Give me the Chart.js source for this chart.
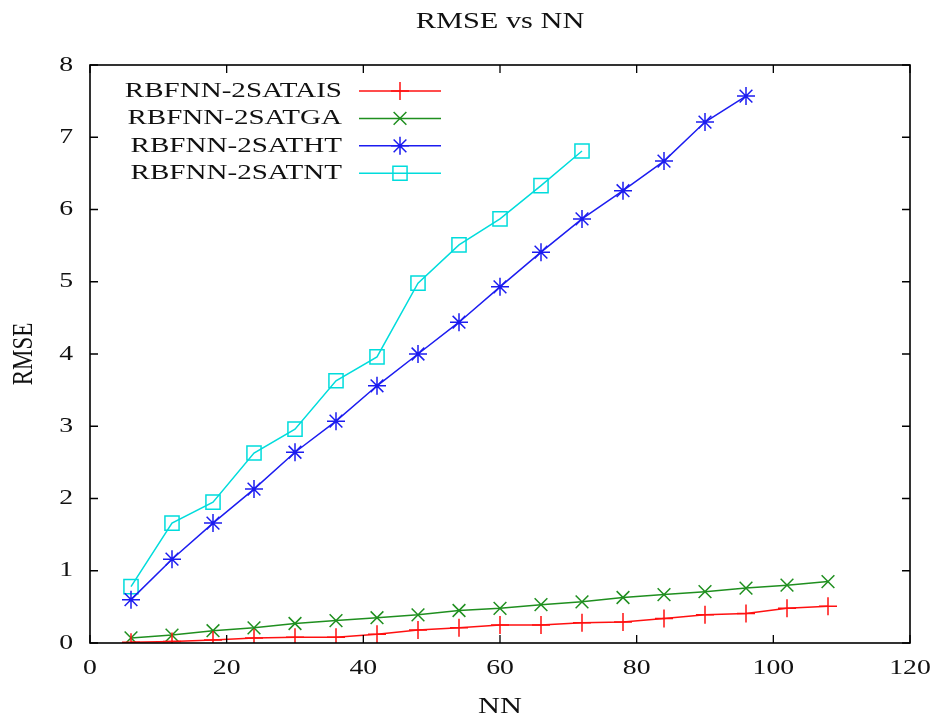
<!DOCTYPE html>
<html>
<head>
<meta charset="utf-8">
<script src="https://cdn.jsdelivr.net/npm/chart.js@4/dist/chart.umd.min.js"></script>
<style>
html,body{margin:0;padding:0;background:#fff;}
#c{display:block;}
</style>
</head>
<body>
<canvas id="c" width="936" height="725"></canvas>
<script>
const titleText = "RMSE vs NN";
const xTitle = "NN";
const yTitle = "RMSE";
const seriesNames = ["RBFNN-2SATAIS", "RBFNN-2SATGA", "RBFNN-2SATHT", "RBFNN-2SATNT"];
const nnValues = [6,12,18,24,30,36,42,48,54,60,66,72,78,84,90,96,102,108];
const rmseAIS = [0.01,0.02,0.04,0.07,0.08,0.08,0.12,0.18,0.21,0.25,0.25,0.28,0.29,0.34,0.39,0.41,0.48,0.51];
const rmseGA  = [0.07,0.11,0.17,0.21,0.27,0.31,0.35,0.39,0.45,0.48,0.53,0.57,0.63,0.67,0.71,0.76,0.80,0.85];
const rmseHT  = [0.60,1.16,1.66,2.13,2.64,3.07,3.56,4.00,4.44,4.93,5.41,5.87,6.26,6.67,7.21,7.57];
const rmseNT  = [0.78,1.66,1.95,2.63,2.96,3.63,3.96,4.98,5.51,5.87,6.33,6.81];
const xTicks = [0,20,40,60,80,100,120];
const yTicks = [0,1,2,3,4,5,6,7,8];

const colors = ["#ff1010", "#1f8f1f", "#1c1cf0", "#00dcdc"];
const styles = ["cross", "crossRot", "star", "rect"];
const radii = [9, 9, 9, 10];

function pts(vals){ return vals.map((v,i)=>({x:nnValues[i], y:v})); }
const allVals = [rmseAIS, rmseGA, rmseHT, rmseNT];

const FONT = "'Liberation Serif','DejaVu Serif',serif";
const SX = 1.32; // horizontal stretch of lettering in the reference

function wideText(ctx, text, x, y, align, size){
  ctx.save();
  ctx.font = size + "px " + FONT;
  ctx.textBaseline = 'middle';
  ctx.textAlign = align;
  ctx.translate(x, y);
  ctx.scale(SX, 1);
  ctx.fillText(text, 0, 0);
  ctx.restore();
}

const boxTicks = {
  id: 'boxTicks',
  afterDatasetsDraw(chart){
    const {ctx, chartArea:a, scales:{x,y}} = chart;
    ctx.save();
    ctx.strokeStyle = '#000';
    ctx.lineWidth = 1.6;
    ctx.strokeRect(a.left, a.top, a.right-a.left, a.bottom-a.top);
    ctx.lineWidth = 1.3;
    const L = 8;
    ctx.beginPath();
    xTicks.forEach(t=>{
      const px = x.getPixelForValue(t);
      ctx.moveTo(px, a.bottom); ctx.lineTo(px, a.bottom-L);
      ctx.moveTo(px, a.top); ctx.lineTo(px, a.top+L);
    });
    yTicks.forEach(t=>{
      const py = y.getPixelForValue(t);
      ctx.moveTo(a.left, py); ctx.lineTo(a.left+L, py);
      ctx.moveTo(a.right, py); ctx.lineTo(a.right-L, py);
    });
    ctx.stroke();
    ctx.restore();
  },
  afterDraw(chart){
    const {ctx, chartArea:a, scales:{x,y}} = chart;
    ctx.save();
    ctx.fillStyle = '#111';
    // tick labels
    xTicks.forEach(t=> wideText(ctx, String(t), x.getPixelForValue(t), a.bottom + 25, 'center', 21));
    yTicks.forEach(t=> wideText(ctx, String(t), a.left - 17, y.getPixelForValue(t), 'right', 21));
    // titles
    wideText(ctx, titleText, (a.left + a.right)/2, 22, 'center', 23);
    wideText(ctx, xTitle, (a.left + a.right)/2, 707, 'center', 23);
    ctx.save();
    ctx.font = "23px " + FONT;
    ctx.textAlign = 'center';
    ctx.textBaseline = 'middle';
    ctx.translate(24, (a.top + a.bottom)/2);
    ctx.scale(SX, 1);
    ctx.rotate(-Math.PI/2);
    ctx.fillText(yTitle, 0, 0);
    ctx.restore();
    // legend
    const textRight = a.left + 252;
    const lx0 = a.left + 269, lx1 = a.left + 351;
    chart.data.datasets.forEach((ds,i)=>{
      const yy = a.top + 26 + i*27.4;
      ctx.fillStyle = '#111';
      wideText(ctx, ds.label, textRight, yy, 'right', 22);
      ctx.strokeStyle = ds.borderColor;
      ctx.lineWidth = 1.5;
      ctx.beginPath(); ctx.moveTo(lx0, yy); ctx.lineTo(lx1, yy); ctx.stroke();
      ctx.fillStyle = 'rgba(0,0,0,0)';
      Chart.helpers.drawPoint(ctx, {pointStyle: ds.pointStyle, radius: ds.pointRadius, rotation: 0, borderWidth: 1.5}, (lx0+lx1)/2, yy);
    });
    ctx.restore();
  }
};

new Chart(document.getElementById('c'), {
  type: 'line',
  data: {
    datasets: allVals.map((vals,i)=>({
      label: seriesNames[i],
      data: pts(vals),
      borderColor: colors[i],
      backgroundColor: 'rgba(0,0,0,0)',
      pointBorderColor: colors[i],
      pointBackgroundColor: 'rgba(0,0,0,0)',
      pointStyle: styles[i],
      pointRadius: radii[i],
      pointBorderWidth: 1.5,
      borderWidth: 1.5,
      tension: 0,
      fill: false
    }))
  },
  options: {
    responsive: false,
    devicePixelRatio: 1,
    animation: false,
    layout: {padding: {left: 0, right: 26, top: 65, bottom: 0}},
    plugins: {
      legend: {display: false},
      tooltip: {enabled: false},
      title: {display: false}
    },
    scales: {
      x: {
        type: 'linear', min: 0, max: 120,
        afterBuildTicks(s){ s.ticks = xTicks.map(v=>({value:v})); },
        afterFit(s){ s.height = 82; },
        grid: {display: false, drawTicks: false},
        border: {display: false},
        ticks: {display: false}
      },
      y: {
        type: 'linear', min: 0, max: 8,
        afterBuildTicks(s){ s.ticks = yTicks.map(v=>({value:v})); },
        afterFit(s){ s.width = 90; },
        grid: {display: false, drawTicks: false},
        border: {display: false},
        ticks: {display: false}
      }
    }
  },
  plugins: [boxTicks]
});
</script>
</body>
</html>
